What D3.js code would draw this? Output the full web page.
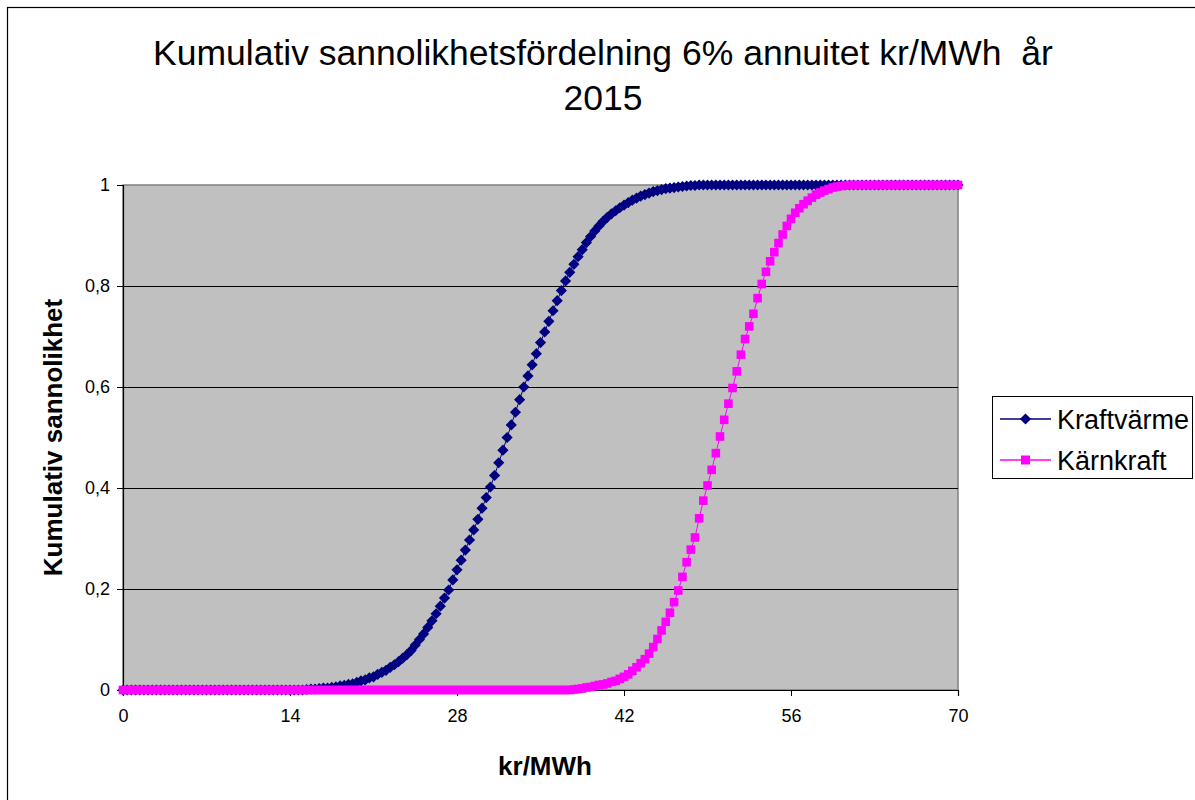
<!DOCTYPE html>
<html>
<head>
<meta charset="utf-8">
<script src="https://cdn.jsdelivr.net/npm/d3@7"></script>
<style>
  html, body { margin: 0; padding: 0; background: #ffffff; }
  svg { display: block; font-family: Arial, "Liberation Sans", sans-serif; }
</style>
</head>
<body>
<svg id="chart" width="1195" height="800"></svg>
<script>
// kr/MWh sample points (x axis)
const priceKr = [
  0,0.35,0.7,1.05,1.4,1.75,2.1,2.45,2.8,3.15,3.5,3.85,4.2,4.55,4.9,5.25,5.6,5.95,6.3,6.65,
  7,7.35,7.7,8.05,8.4,8.75,9.1,9.45,9.8,10.15,10.5,10.85,11.2,11.55,11.9,12.25,12.6,12.95,13.3,13.65,
  14,14.35,14.7,15.05,15.4,15.75,16.1,16.45,16.8,17.15,17.5,17.85,18.2,18.55,18.9,19.25,19.6,19.95,20.3,20.65,
  21,21.35,21.7,22.05,22.4,22.75,23.1,23.45,23.8,24.15,24.5,24.85,25.2,25.55,25.9,26.25,26.6,26.95,27.3,27.65,
  28,28.35,28.7,29.05,29.4,29.75,30.1,30.45,30.8,31.15,31.5,31.85,32.2,32.55,32.9,33.25,33.6,33.95,34.3,34.65,
  35,35.35,35.7,36.05,36.4,36.75,37.1,37.45,37.8,38.15,38.5,38.85,39.2,39.55,39.9,40.25,40.6,40.95,41.3,41.65,
  42,42.35,42.7,43.05,43.4,43.75,44.1,44.45,44.8,45.15,45.5,45.85,46.2,46.55,46.9,47.25,47.6,47.95,48.3,48.65,
  49,49.35,49.7,50.05,50.4,50.75,51.1,51.45,51.8,52.15,52.5,52.85,53.2,53.55,53.9,54.25,54.6,54.95,55.3,55.65,
  56,56.35,56.7,57.05,57.4,57.75,58.1,58.45,58.8,59.15,59.5,59.85,60.2,60.55,60.9,61.25,61.6,61.95,62.3,62.65,
  63,63.35,63.7,64.05,64.4,64.75,65.1,65.45,65.8,66.15,66.5,66.85,67.2,67.55,67.9,68.25,68.6,68.95,69.3,69.65,
  70
];

// Cumulative probability, combined heat and power
const kraftvarme = [
  0,0,0,0,0,0,0,0,0,0,0,0,0,0,0,0,0,0,0,0,
  0,0,0,0,0,0,0,0,0,0,0,0,0,0,0,0,0,0,0,0,
  0,0,0,0,0.001,0.002,0.002,0.003,0.004,0.004,0.005,0.006,0.008,0.009,0.011,0.012,0.015,0.018,0.02,0.024,
  0.026,0.031,0.035,0.039,0.045,0.05,0.056,0.063,0.07,0.078,0.089,0.1,0.111,0.124,0.137,0.151,0.166,0.182,0.198,0.218,
  0.238,0.257,0.277,0.297,0.317,0.338,0.36,0.381,0.402,0.425,0.45,0.475,0.5,0.525,0.55,0.575,0.6,0.622,0.644,0.666,
  0.688,0.709,0.73,0.751,0.771,0.791,0.81,0.827,0.843,0.858,0.872,0.886,0.898,0.909,0.919,0.928,0.936,0.943,0.949,0.955,
  0.96,0.965,0.97,0.974,0.978,0.981,0.984,0.987,0.989,0.991,0.993,0.994,0.995,0.996,0.997,0.998,0.999,0.999,1,1,
  1,1,1,1,1,1,1,1,1,1,1,1,1,1,1,1,1,1,1,1,
  1,1,1,1,1,1,1,1,1,1,1,1,1,1,1,1,1,1,1,1,
  1,1,1,1,1,1,1,1,1,1,1,1,1,1,1,1,1,1,1,1,
  1
];

// Cumulative probability, nuclear
const karnkraft = [
  0,0,0,0,0,0,0,0,0,0,0,0,0,0,0,0,0,0,0,0,
  0,0,0,0,0,0,0,0,0,0,0,0,0,0,0,0,0,0,0,0,
  0,0,0,0,0,0,0,0,0,0,0,0,0,0,0,0,0,0,0,0,
  0,0,0,0,0,0,0,0,0,0,0,0,0,0,0,0,0,0,0,0,
  0,0,0,0,0,0,0,0,0,0,0,0,0,0,0,0,0,0,0,0,
  0,0,0,0,0,0,0,0,0.001,0.002,0.003,0.005,0.006,0.008,0.01,0.011,0.013,0.016,0.018,0.022,
  0.026,0.031,0.038,0.045,0.053,0.061,0.072,0.085,0.101,0.118,0.135,0.153,0.174,0.197,0.224,0.253,0.278,0.302,0.34,0.375,
  0.405,0.436,0.469,0.502,0.535,0.567,0.598,0.631,0.664,0.695,0.72,0.745,0.776,0.804,0.828,0.849,0.867,0.885,0.902,0.919,
  0.933,0.945,0.954,0.962,0.969,0.975,0.981,0.985,0.989,0.992,0.995,0.997,0.998,0.999,1,1,1,1,1,1,
  1,1,1,1,1,1,1,1,1,1,1,1,1,1,1,1,1,1,1,1,
  1
];

const xTicks = [0, 14, 28, 42, 56, 70];
const yTicks = [0, 0.2, 0.4, 0.6, 0.8, 1];
const seriesNames = ["Kraftvärme", "Kärnkraft"];
const titleLines = ["Kumulativ sannolikhetsfördelning 6% annuitet kr/MWh  år", "2015"];

const svg = d3.select("#chart");
const W = 1195, H = 800;
const plot = { left: 123, right: 958, top: 185, bottom: 690 };

// Chart-area frame
svg.append("rect")
  .attr("x", 7.5).attr("y", 7.5)
  .attr("width", W + 20).attr("height", H + 20)
  .attr("fill", "#ffffff").attr("stroke", "#000000").attr("stroke-width", 1.2);

const x = d3.scaleLinear().domain([0, 70]).range([plot.left, plot.right]);
const y = d3.scaleLinear().domain([0, 1]).range([plot.bottom, plot.top]);

// Plot area
svg.append("rect")
  .attr("x", plot.left).attr("y", plot.top)
  .attr("width", plot.right - plot.left).attr("height", plot.bottom - plot.top)
  .attr("fill", "#c0c0c0").attr("stroke", "#808080").attr("stroke-width", 1.5);

// Horizontal gridlines
svg.append("g")
  .selectAll("line")
  .data(yTicks.filter(d => d > 0 && d < 1))
  .join("line")
  .attr("x1", plot.left).attr("x2", plot.right)
  .attr("y1", d => Math.round(y(d)) + 0.5).attr("y2", d => Math.round(y(d)) + 0.5)
  .attr("stroke", "#000000").attr("stroke-width", 1);

// Axes
const fmt = d => String(d).replace(".", ",");
const yAxis = d3.axisLeft(y).tickValues(yTicks).tickFormat(fmt).tickSize(6).tickPadding(7);
const xAxis = d3.axisBottom(x).tickValues(xTicks).tickFormat(d => d).tickSize(6).tickPadding(13);

const gy = svg.append("g").attr("transform", `translate(${plot.left},0)`).call(yAxis);
const gx = svg.append("g").attr("transform", `translate(0,${plot.bottom})`).call(xAxis);
[gx, gy].forEach(g => {
  g.select(".domain").attr("stroke", "#000000").attr("stroke-width", 1.2);
  g.selectAll(".tick line").attr("stroke", "#000000");
  g.selectAll("text").attr("fill", "#000000")
    .style("font-family", "Arial, 'Liberation Sans', sans-serif").style("font-size", "18px");
});

// Series lines and markers
const line = d3.line().x(d => x(d[0])).y(d => y(d[1]));
const kvData = priceKr.map((p, i) => [p, kraftvarme[i]]);
const kkData = priceKr.map((p, i) => [p, karnkraft[i]]);

const navy = "#000080", magenta = "#ff00ff";
const diamond = "M0,-5.6L5.6,0L0,5.6L-5.6,0Z";
const sq = 8.6;

svg.append("path").datum(kvData).attr("d", line)
  .attr("fill", "none").attr("stroke", navy).attr("stroke-width", 1);
svg.append("g").selectAll("path")
  .data(kvData).join("path")
  .attr("d", diamond)
  .attr("transform", d => `translate(${x(d[0])},${y(d[1])})`)
  .attr("fill", navy);

svg.append("path").datum(kkData).attr("d", line)
  .attr("fill", "none").attr("stroke", magenta).attr("stroke-width", 1);
svg.append("g").selectAll("rect")
  .data(kkData).join("rect")
  .attr("x", d => x(d[0]) - sq / 2).attr("y", d => y(d[1]) - sq / 2)
  .attr("width", sq).attr("height", sq)
  .attr("fill", magenta);

// Title
svg.append("text")
  .attr("x", 603).attr("text-anchor", "middle")
  .style("font-size", "35.5px").style("white-space", "pre").attr("fill", "#000000")
  .selectAll("tspan").data(titleLines).join("tspan")
  .attr("x", 603).attr("y", (d, i) => 65 + i * 45)
  .text(d => d);

// Axis titles
svg.append("text")
  .attr("x", 545).attr("y", 775)
  .attr("text-anchor", "middle").style("font-size", "26px").style("font-weight", "bold")
  .text("kr/MWh");
svg.append("text")
  .attr("transform", `translate(62,${(plot.top + plot.bottom) / 2}) rotate(-90)`)
  .attr("text-anchor", "middle").style("font-size", "26px").style("font-weight", "bold")
  .text("Kumulativ sannolikhet");

// Legend
const legend = svg.append("g");
legend.append("rect")
  .attr("x", 992.5).attr("y", 396.5).attr("width", 200).attr("height", 82)
  .attr("fill", "#ffffff").attr("stroke", "#000000").attr("stroke-width", 1);
const colors = [navy, magenta];
seriesNames.forEach((name, i) => {
  const cy = 419 + i * 41;
  legend.append("line")
    .attr("x1", 1000).attr("x2", 1051).attr("y1", cy).attr("y2", cy)
    .attr("stroke", colors[i]).attr("stroke-width", 1.5);
  if (i === 0) {
    legend.append("path").attr("d", diamond)
      .attr("transform", `translate(1025.5,${cy})`).attr("fill", navy);
  } else {
    legend.append("rect")
      .attr("x", 1025.5 - 4.5).attr("y", cy - 4.5).attr("width", 9).attr("height", 9)
      .attr("fill", magenta);
  }
  legend.append("text")
    .attr("x", 1057).attr("y", cy + 10)
    .style("font-size", "27px").attr("fill", "#000000")
    .text(name);
});
</script>
</body>
</html>
